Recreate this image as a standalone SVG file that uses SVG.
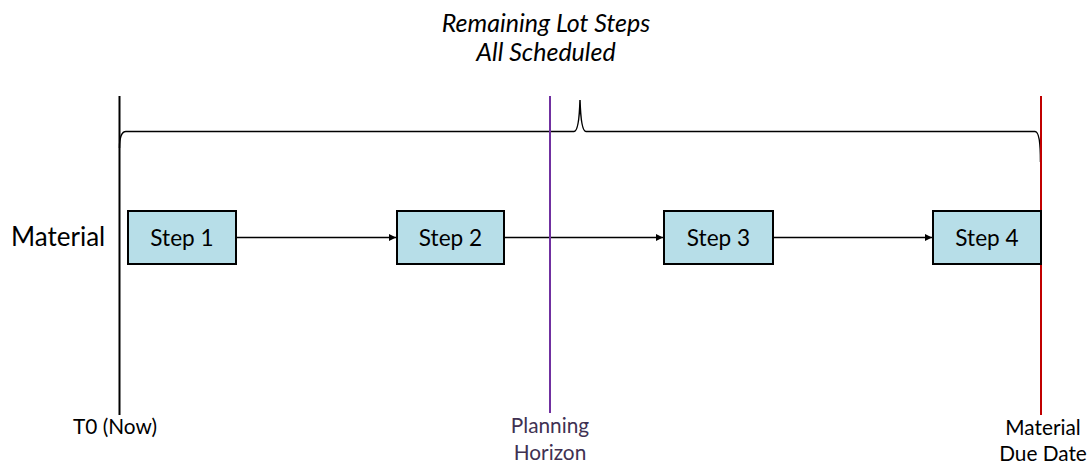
<svg xmlns="http://www.w3.org/2000/svg" width="1088" height="464" viewBox="0 0 1088 464">
  <defs>
    <marker id="arrow" viewBox="0 0 10 10" refX="10" refY="5" markerWidth="9" markerHeight="7" markerUnits="userSpaceOnUse" orient="auto">
      <path d="M0,0 L10,5 L0,10 Z" fill="#000"/>
    </marker>
  </defs>
  <style>
    .txt { font-family: Lato, "Open Sans", "Liberation Sans", sans-serif; }
    .step rect { fill: #b7dee8; stroke: #000; stroke-width: 2; }
    .step text { font-size: 22.6px; fill: #000; text-anchor: middle; }
    .conn { stroke: #000; stroke-width: 1.5; fill: none; marker-end: url(#arrow); }
    .lbl { font-size: 20.8px; text-anchor: middle; }
  </style>
  <rect width="1088" height="464" fill="#fff"/>

  <g id="title">
    <text class="txt" x="546" y="31.5" font-size="25" font-style="italic" text-anchor="middle" fill="#000">Remaining Lot Steps</text>
    <text class="txt" x="546" y="60.5" font-size="25" font-style="italic" text-anchor="middle" fill="#000">All Scheduled</text>
  </g>

  <g id="brace">
    <path d="M119.5,148 Q119.5,131.5 126,131.5 L574,131.5 Q579,131.5 580,100 Q581,131.5 586,131.5 L1035,131.5 Q1040.5,131.5 1040.5,162" fill="none" stroke="#000" stroke-width="1.5"/>
  </g>

  <g id="connectors">
    <line class="conn" x1="237" y1="237.5" x2="396" y2="237.5"/>
    <line class="conn" x1="505" y1="237.5" x2="663" y2="237.5"/>
    <line class="conn" x1="774" y1="237.5" x2="932" y2="237.5"/>
  </g>

  <g id="timeline-now">
    <line x1="119.5" y1="96" x2="119.5" y2="415" stroke="#000" stroke-width="2"/>
    <text class="txt lbl" x="115" y="434" fill="#000">T0 (Now)</text>
  </g>
  <g id="planning-horizon">
    <line x1="550" y1="96" x2="550" y2="413" stroke="#7030a0" stroke-width="2"/>
    <text class="txt lbl" x="550" y="433" fill="#403152">Planning</text>
    <text class="txt lbl" x="550" y="460" fill="#403152">Horizon</text>
  </g>
  <g id="due-date">
    <line x1="1041" y1="96" x2="1041" y2="415" stroke="#c00000" stroke-width="2"/>
    <text class="txt lbl" x="1043" y="435" fill="#000">Material</text>
    <text class="txt lbl" x="1043" y="461" fill="#000">Due Date</text>
  </g>

  <g id="material-label">
    <text class="txt" x="11" y="246" font-size="26" fill="#000">Material</text>
  </g>

  <g id="step1" class="step txt">
    <rect x="128" y="211" width="108" height="53"/>
    <text x="182" y="246">Step 1</text>
  </g>
  <g id="step2" class="step txt">
    <rect x="397" y="211" width="107" height="53"/>
    <text x="450.5" y="246">Step 2</text>
  </g>
  <g id="step3" class="step txt">
    <rect x="664" y="211" width="109" height="53"/>
    <text x="718.5" y="246">Step 3</text>
  </g>
  <g id="step4" class="step txt">
    <rect x="933" y="211" width="108" height="53"/>
    <text x="987" y="246">Step 4</text>
  </g>
</svg>
